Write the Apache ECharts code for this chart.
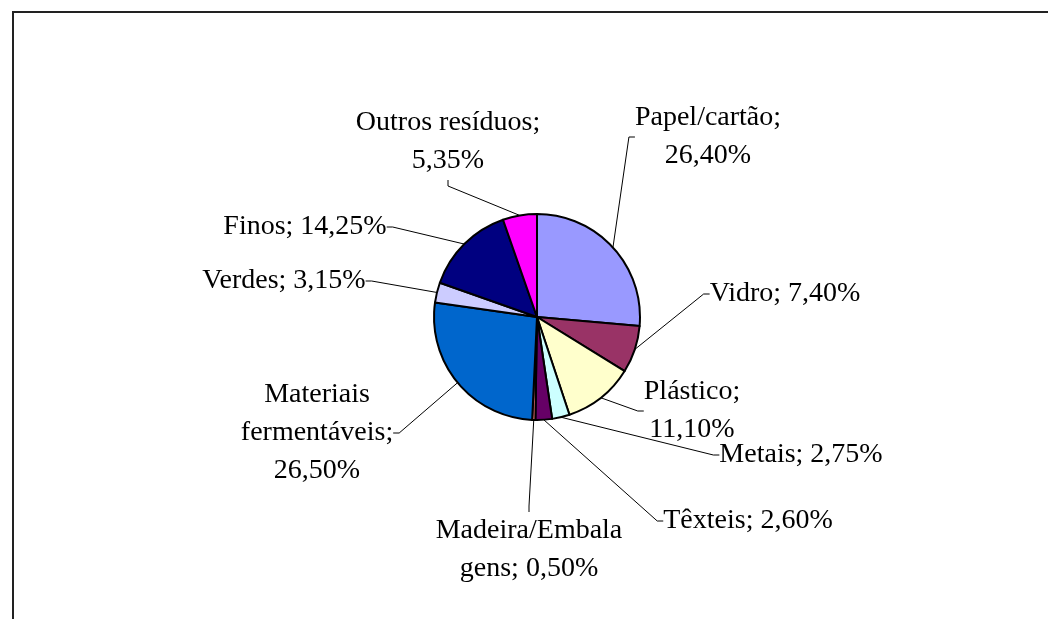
<!DOCTYPE html>
<html><head><meta charset="utf-8">
<script src="https://cdn.jsdelivr.net/npm/echarts@6/dist/echarts.min.js"></script>
<style>html,body{margin:0;padding:0;background:#fff}#c{width:1048px;height:619px}</style>
</head><body><div id="c"></div>
<script>
// ---- data ----
const categories = ['Papel/cartão', 'Vidro', 'Plástico', 'Metais', 'Têxteis', 'Madeira/Embalagens', 'Materiais fermentáveis', 'Verdes', 'Finos', 'Outros resíduos'];
const values = [26.40, 7.40, 11.10, 2.75, 2.60, 0.50, 26.50, 3.15, 14.25, 5.35];

// ---- styling / layout (not data) ----
const colors = ['#9999FF', '#993366', '#FFFFCC', '#CCFFFF', '#660066', '#FF8080', '#0066CC', '#CCCCFF', '#000080', '#FF00FF'];
const wrapAfter = [[';'], [], [';'], [], [], ['Embala'], ['Materiais', ';'], [], [], [';']];
const labelPos = [[708, 137], [785, 294], [692, 411], [801, 455], [748, 521], [529, 550], [317, 433], [284, 281], [305, 227], [448, 142]];

function fmt(v) { return v.toFixed(2).replace('.', ',') + '%'; }
function labelText(i) {
  let t = categories[i] + '; ' + fmt(values[i]);
  wrapAfter[i].forEach(tok => {
    const k = t.indexOf(tok);
    if (k >= 0) {
      let rest = t.slice(k + tok.length);
      if (rest.charAt(0) === ' ') rest = rest.slice(1);
      t = t.slice(0, k + tok.length) + '\n' + rest;
    }
  });
  return t;
}

const chart = echarts.init(document.getElementById('c'), null, { renderer: 'canvas' });
chart.setOption({
  animation: false,
  backgroundColor: '#fff',
  graphic: [{
    type: 'rect', silent: true,
    shape: { x: 13, y: 12, width: 1200, height: 800 },
    style: { fill: 'none', stroke: '#222', lineWidth: 2 }
  }],
  series: [{
    type: 'pie',
    center: [537, 317],
    radius: 103,
    startAngle: 90,
    clockwise: true,
    avoidLabelOverlap: false,
    data: categories.map((c, i) => ({ name: c, value: values[i], itemStyle: { color: colors[i] } })),
    itemStyle: { borderColor: '#000', borderWidth: 2 },
    label: {
      show: true, position: 'outside',
      formatter: p => labelText(p.dataIndex),
      fontFamily: 'Liberation Serif', fontSize: 28, lineHeight: 38,
      color: '#000', align: 'center'
    },
    labelLine: {
      show: true, length: 10, length2: 6, smooth: false,
      lineStyle: { color: '#000', width: 1 }
    },
    labelLayout: p => ({
      x: labelPos[p.dataIndex][0], y: labelPos[p.dataIndex][1],
      align: 'center', verticalAlign: 'middle', hideOverlap: false
    }),
    emphasis: { disabled: true }
  }]
});
</script></body></html>
